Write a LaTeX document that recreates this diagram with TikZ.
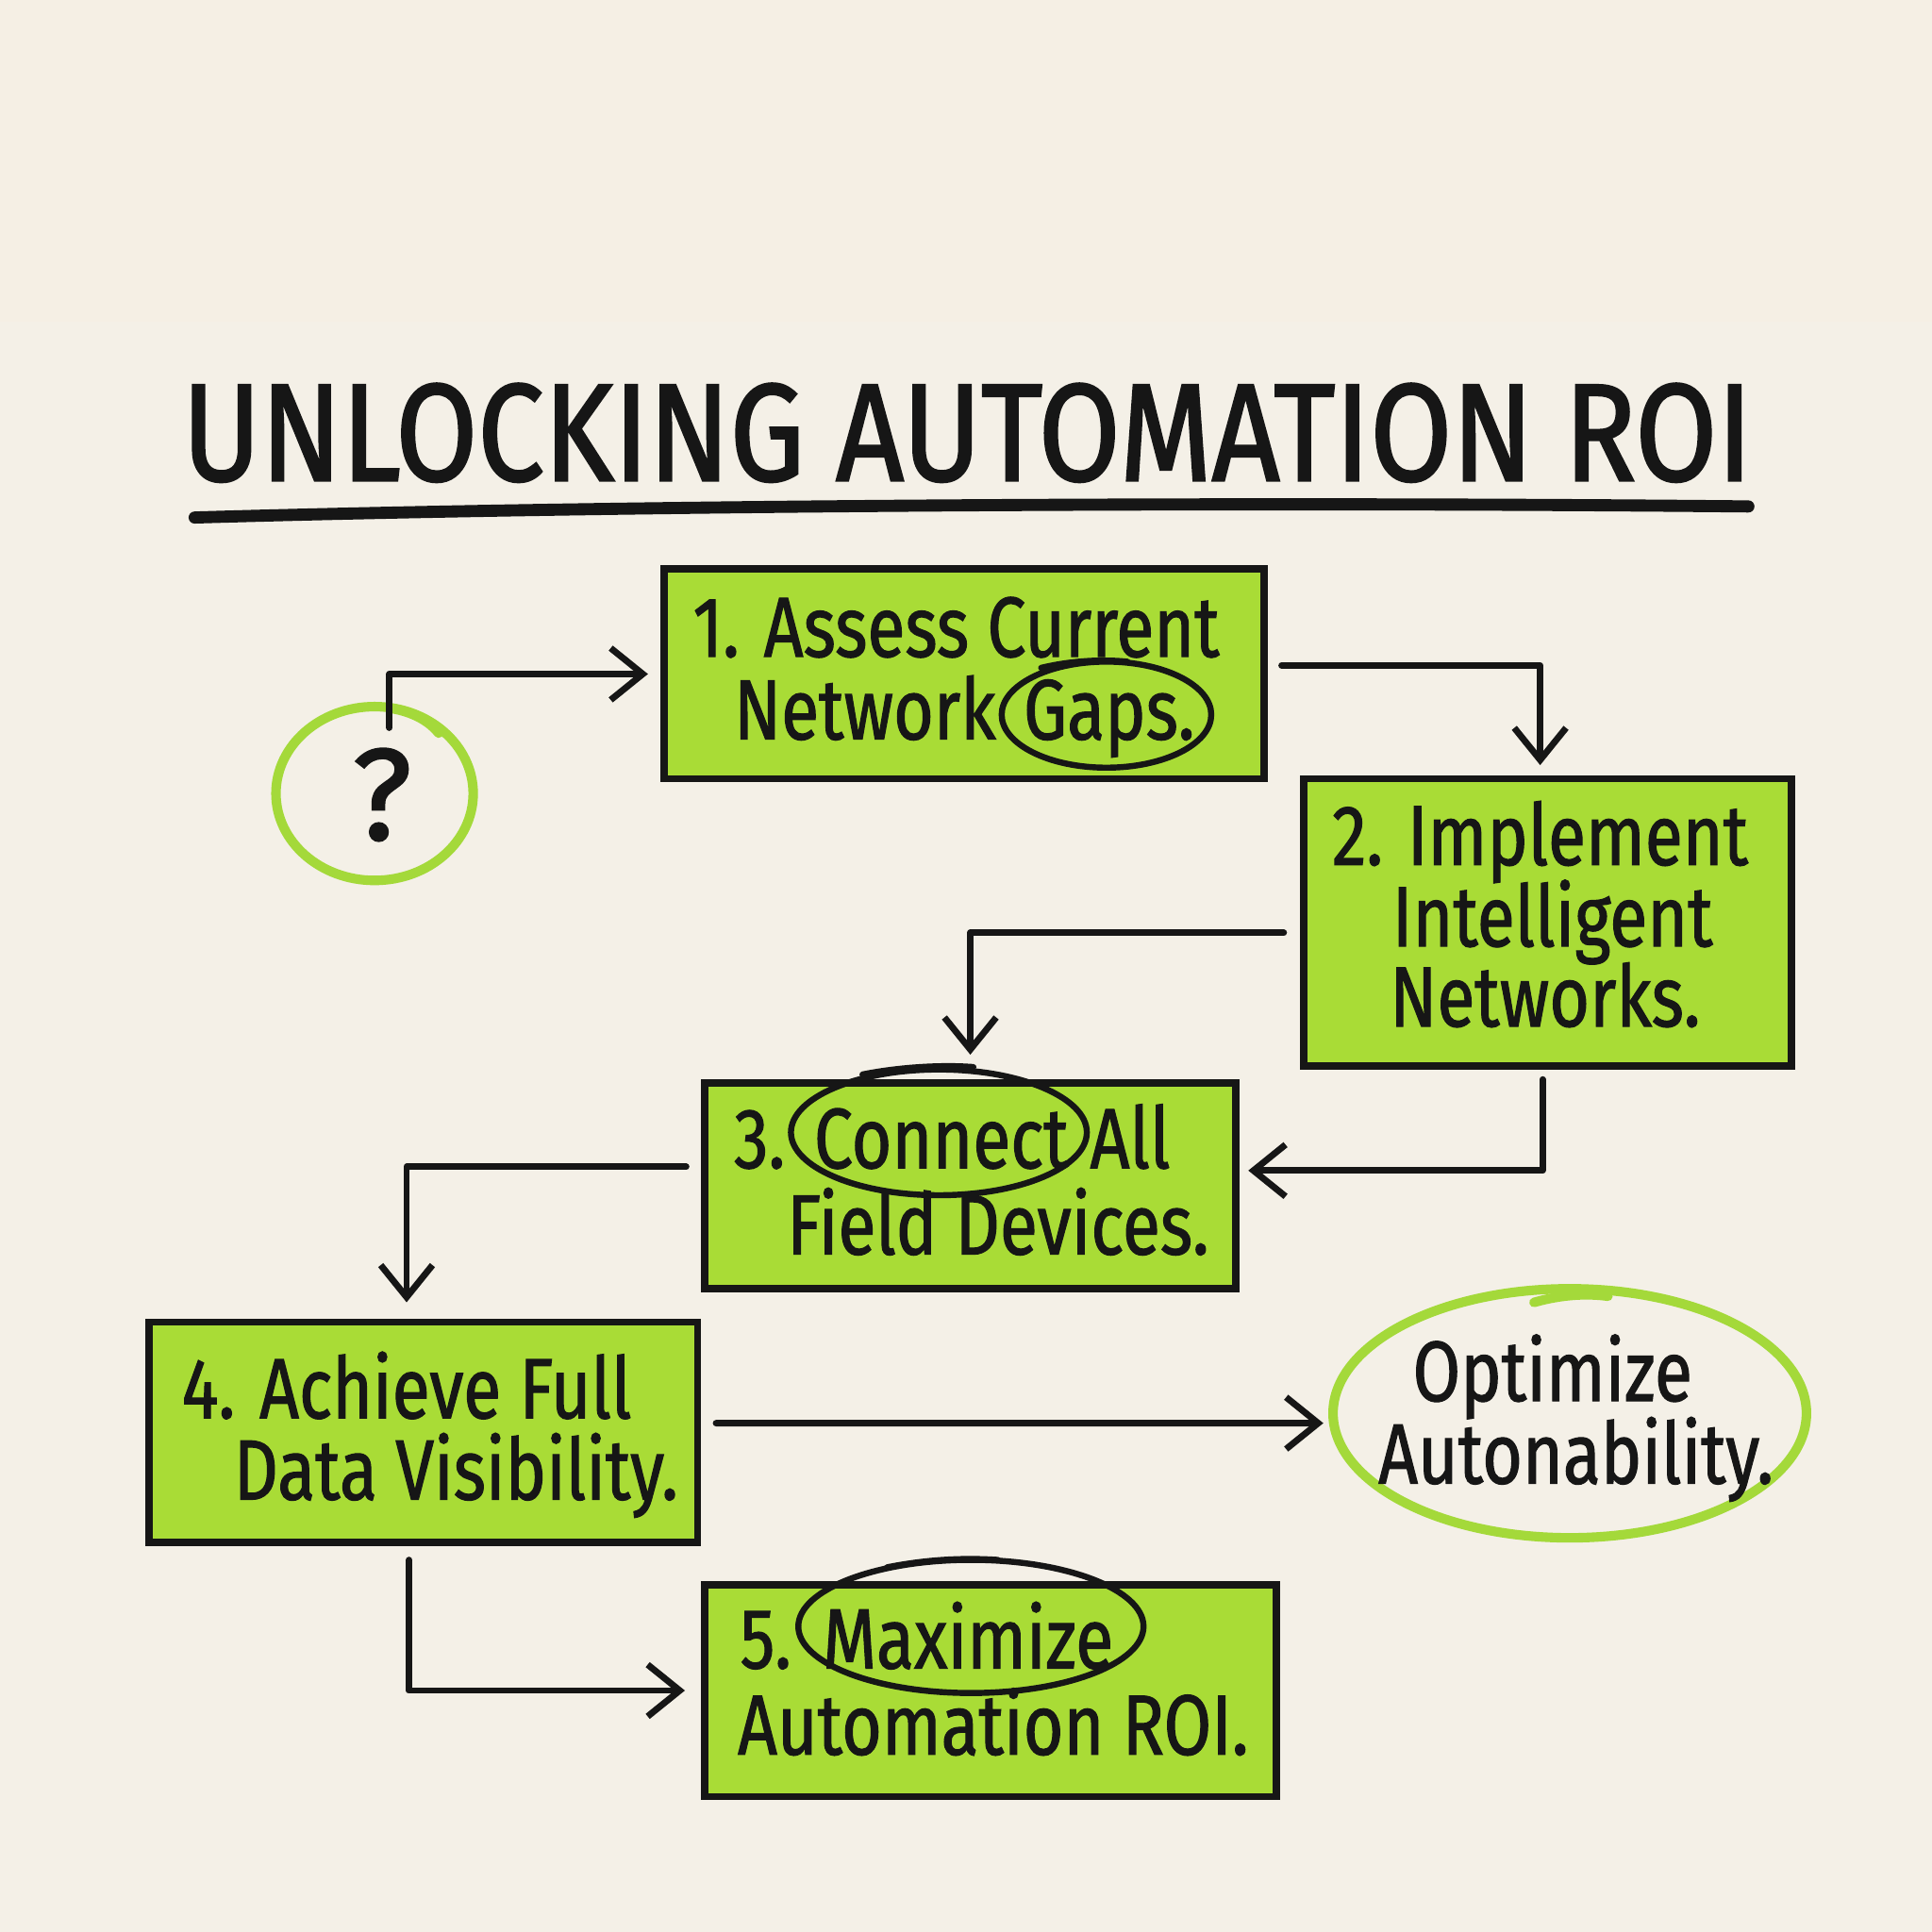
\documentclass[tikz,border=0pt]{standalone}
\usepackage{fontspec}
\setmainfont{Fira Sans}
\newfontfamily\hand[FakeStretch=0.81,FakeBold=1.2]{Fira Sans}
\newfontfamily\qfont[FakeBold=1.5]{Fira Sans}
\newfontfamily\titlefont[FakeStretch=0.855,FakeBold=1.6]{Fira Sans}
\usetikzlibrary{arrows.meta,shapes.geometric,calc}
\definecolor{bgc}{HTML}{F4F0E7}
\definecolor{bgtop}{HTML}{F5EFE4}
\definecolor{greenf}{HTML}{A9DC36}
\definecolor{greenl}{HTML}{A4D93A}
\definecolor{inkc}{HTML}{161616}
\begin{document}
\begin{tikzpicture}[x=0.01cm,y=-0.01cm,
  box/.style={draw=inkc, fill=greenf, line width=1.7pt, rectangle, inner sep=0pt},
  arr/.style={draw=inkc, line width=1.5pt, line cap=round, line join=round,
    -{Straight Barb[length=2.6mm,width=4.2mm,line width=1.5pt]}},
  txt/.style={font=\hand\fontsize{19.7}{23}\selectfont, text=inkc, inner sep=0pt, anchor=base},
  ring/.style={draw=inkc, line width=1.4pt, line cap=round},
  gring/.style={draw=greenl, line width=2.2pt, line cap=round},
  ttl/.style={font=\titlefont\fontsize{32}{36}\selectfont, text=inkc, inner sep=0pt, anchor=base}
]
% background
\fill[bgc] (0,0) rectangle (1568,1568);
\fill[bgtop] (0,0) rectangle (1568,261);
\useasboundingbox (0,0) rectangle (1568,1568);

% title
\node[ttl] (title) at (785,390) {UNLOCKING AUTOMATION ROI};
\draw[inkc, line width=2.8pt, line cap=round] (158,420) .. controls (500,410) and (1000,407) .. (1419,411);

% boxes
\node[box, minimum width=4.87cm, minimum height=1.70cm] (b1) at (782.5,547) {};
\node[box, minimum width=3.96cm, minimum height=2.33cm] (b2) at (1256,748.5) {};
\node[box, minimum width=4.31cm, minimum height=1.67cm] (b3) at (787.5,962.5) {};
\node[box, minimum width=4.45cm, minimum height=1.79cm] (b4) at (343.5,1162.5) {};
\node[box, minimum width=4.64cm, minimum height=1.72cm] (b5) at (804,1372) {};

% question circle
\node[draw=greenl, line width=2.2pt, ellipse, minimum width=1.60cm, minimum height=1.41cm, inner sep=0pt] (qc) at (304,644) {};
\draw[gring] (318,575) .. controls (335,578) and (348,585) .. (356,595);
\node[font=\qfont\fontsize{30}{32}\selectfont, text=inkc, inner sep=0pt] (q) at (310,645) {?};

% optimize ellipse
\node[draw=greenl, line width=2.2pt, ellipse, minimum width=3.84cm, minimum height=2.02cm, inner sep=0pt] (opt) at (1274,1147) {};
\draw[gring] (1245,1057) .. controls (1270,1050) and (1290,1050) .. (1305,1052);

% box 1 text
\node[txt] (t1a) at (776,533) {1. Assess Current};
\node[txt, anchor=base east] (t1b) at (809,600) {Network};
\node[txt, anchor=base west] (t1c) at (830,600) {Gaps.};
\draw[ring] (898,580) ellipse [x radius=0.85cm, y radius=0.43cm];
\draw[ring] (845,542) .. controls (870,536) and (895,535) .. (915,537);

% box 2 text
\node[txt] (t2a) at (1250,702) {2. Implement};
\node[txt] (t2b) at (1260,768) {Intelligent};
\node[txt] (t2c) at (1254,833) {Networks.};

% box 3 text
\node[txt, anchor=base west] (t3a) at (595,948) {3.};
\node[txt, anchor=base west] (t3b) at (660,948) {Connect};
\node[txt, anchor=base west] (t3c) at (884,948) {All};
\node[txt] (t3d) at (810,1018) {Field Devices.};
\draw[ring] (762,919) ellipse [x radius=1.20cm, y radius=0.51cm];
\draw[ring] (700,872) .. controls (730,866) and (765,864) .. (790,866);

% box 4 text
\node[txt] (t4a) at (330,1151) {4. Achieve Full};
\node[txt] (t4b) at (370,1217) {Data Visibility.};

% box 5 text
\node[txt, anchor=base west] (t5a) at (600,1354) {5.};
\node[txt, anchor=base west] (t5b) at (667,1354) {Maximize};
\node[txt] (t5c) at (806,1424) {Automation ROI.};
\draw[ring] (788,1320) ellipse [x radius=1.40cm, y radius=0.54cm];
\draw[ring] (720,1272) .. controls (750,1266) and (780,1264) .. (810,1266);

% optimize text
\node[txt] (o1) at (1260,1137) {Optimize};
\node[txt] (o2) at (1279,1204) {Autonability.};

% connectors
\draw[arr, shorten >=0.1cm] ([xshift=0.12cm,yshift=-0.21cm]qc.north) |- (b1.west);
\draw[arr, shorten >=0.08cm] ([xshift=0.11cm,yshift=0.07cm]b1.east) -| ([xshift=-0.06cm]b2.north);
\draw[arr, shorten >=0.2cm] ([xshift=-0.13cm,yshift=-0.085cm]b2.west) -| (b3.north);
\draw[arr, shorten >=0.07cm] ([xshift=-0.04cm,yshift=-0.08cm]b2.south) |- ([yshift=0.125cm]b3.east);
\draw[arr, shorten >=0.13cm] ([xshift=-0.12cm,yshift=0.155cm]b3.west) -| ([xshift=-0.135cm]b4.north);
\draw[arr, shorten >=0.04cm] ([xshift=0.12cm,yshift=0.075cm]b4.east) -- ([yshift=-0.08cm]opt.west);
\draw[arr, shorten >=0.13cm] ([xshift=-0.115cm,yshift=-0.11cm]b4.south) |- (b5.west);
\end{tikzpicture}
\end{document}
